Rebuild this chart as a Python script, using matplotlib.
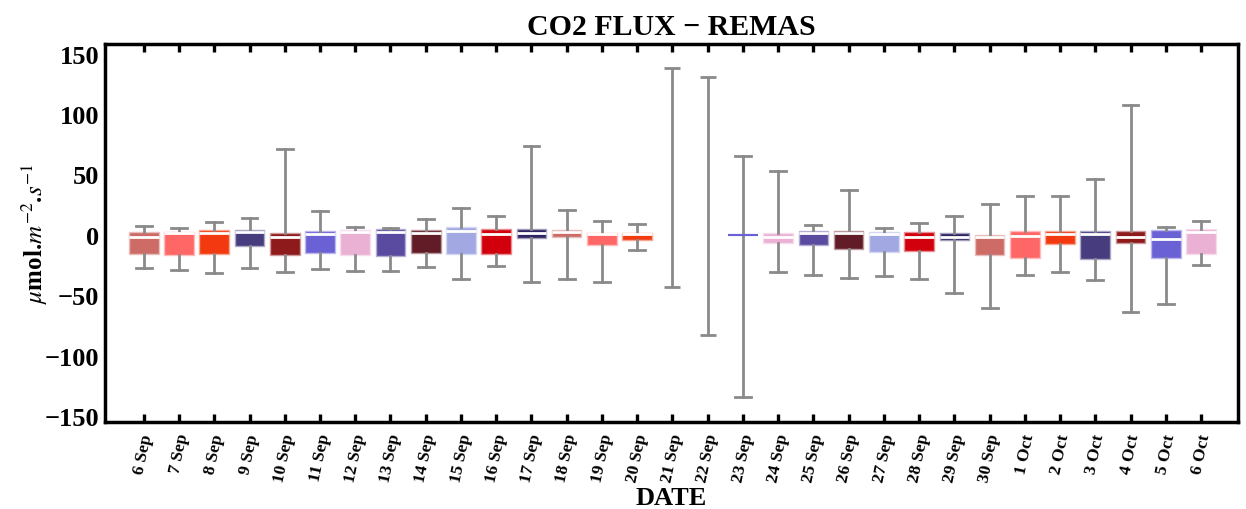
import matplotlib
matplotlib.use("Agg")
import matplotlib.pyplot as plt
import matplotlib.colors as mcolors
import numpy as np

plt.rcParams['font.family'] = ['Liberation Serif', 'DejaVu Serif']
plt.rcParams['mathtext.fontset'] = 'stix'

dates = ['6 Sep', '7 Sep', '8 Sep', '9 Sep', '10 Sep', '11 Sep', '12 Sep', '13 Sep',
         '14 Sep', '15 Sep', '16 Sep', '17 Sep', '18 Sep', '19 Sep', '20 Sep', '21 Sep',
         '22 Sep', '23 Sep', '24 Sep', '25 Sep', '26 Sep', '27 Sep', '28 Sep', '29 Sep',
         '30 Sep', '1 Oct', '2 Oct', '3 Oct', '4 Oct', '5 Oct', '6 Oct']

whis_hi = [7.5, 6.0, 10.5, 13.8, 70.7, 19.3, 6.6, 5.8, 12.7, 22.4, 15.5, 73.5, 20.2, 11.6,
           9.1, 138.0, 131.0, 65.2, 52.5, 8.0, 37.3, 5.8, 9.9, 15.2, 25.4, 32.3, 32.3,
           45.8, 107.7, 6.6, 11.3]
q3 = [2.7, 2.2, 3.9, 3.9, 1.9, 3.3, 4.1, 4.7, 3.9, 6.4, 5.0, 4.7, 3.9, 1.7, 1.9, None,
      None, -0.3, 1.7, 2.8, 3.1, 2.2, 2.5, 1.1, -0.3, 3.3, 3.1, 3.1, 3.1, 3.6, 4.4]
med = [-1.7, 1.4, 1.4, 2.2, -1.7, 0.3, 2.2, 2.5, 1.4, 3.1, 0.3, 1.1, 2.2, 0.3, 0.3, None,
       None, -0.3, -2.2, 1.1, 1.7, 0.3, -1.9, -1.7, -1.9, -1.4, 0.3, 0.8, -1.7, -3.3, 2.5]
q1 = [-16.0, -16.8, -16.0, -9.4, -16.6, -14.9, -16.6, -17.7, -14.9, -15.5, -16.0, -3.0,
      -1.9, -8.3, -4.4, None, None, -0.3, -6.9, -8.6, -11.6, -14.6, -13.5, -3.9, -16.6,
      -19.6, -8.0, -19.9, -6.6, -19.3, -16.3]
whis_lo = [-27.3, -29.3, -32.0, -27.6, -31.2, -28.7, -29.6, -29.6, -27.0, -36.2, -26.0,
           -39.0, -37.0, -39.0, -12.2, -43.4, -82.6, -134.0, -30.9, -32.9, -35.4, -34.0,
           -36.5, -48.0, -60.8, -33.1, -31.2, -37.6, -63.8, -56.9, -24.9]

palette = ['#CD6C67', '#FF6767', '#F2390F', '#463C7E', '#8E1A1C', '#6A62D4',
           '#EBB1D4', '#5A4BA0', '#611C27', '#A1A8E2', '#D1000C', '#2E2463']

yticks = [-150, -100, -50, 0, 50, 100, 150]

fig = plt.figure(figsize=(12.46, 5.10), dpi=100)
ax = fig.add_axes([0.0843, 0.1706, 0.9093, 0.7412])

x = np.arange(len(dates))
whisk_color = '#8A8A8A'
box_w = 0.84
cap_w = 0.45

full_idx = [i for i in range(len(dates)) if q1[i] is not None]
only_idx = [i for i in range(len(dates)) if q1[i] is None]

stats = [dict(whislo=whis_lo[i], q1=q1[i], med=med[i], q3=q3[i], whishi=whis_hi[i],
              fliers=[]) for i in full_idx]
bp = ax.bxp(stats, positions=x[full_idx], widths=box_w, patch_artist=True,
            showfliers=False, manage_ticks=False,
            whiskerprops=dict(color=whisk_color, linewidth=2.0),
            capprops=dict(color=whisk_color, linewidth=2.0),
            medianprops=dict(color='white', linewidth=2.0),
            capwidths=cap_w)
for k, i in enumerate(full_idx):
    c = palette[i % len(palette)]
    light = tuple(0.45 * np.array(mcolors.to_rgb(c)) + 0.55)
    patch = bp['boxes'][k]
    patch.set_facecolor(c)
    if q1[i] == q3[i]:
        patch.set_edgecolor(c)
        patch.set_linewidth(1.5)
        bp['medians'][k].set_color(c)
        bp['medians'][k].set_linewidth(1.5)
    else:
        patch.set_edgecolor(light)
        patch.set_linewidth(1.0)

# days with only a whisker range
for i in only_idx:
    ax.vlines(x[i], whis_lo[i], whis_hi[i], color=whisk_color, linewidth=2.0)
    ax.hlines([whis_lo[i], whis_hi[i]], x[i] - cap_w / 2, x[i] + cap_w / 2,
              color=whisk_color, linewidth=2.0)

ax.set_xlim(-1.1, 31.05)
ax.set_ylim(-155, 158)
ax.set_yticks(yticks)
ax.set_yticklabels([str(v).replace('-', '\u2212') for v in yticks],
                   fontsize=19, fontweight='bold')
ax.set_xticks(x)
ax.set_xticklabels(dates, rotation=78, fontsize=12.5, fontweight='bold')
ax.tick_params(axis='x', direction='in', length=6, width=2.4, top=True, pad=7)
ax.tick_params(axis='y', length=0, pad=4)
for s in ax.spines.values():
    s.set_linewidth(2.5)

ax.set_title('CO2 FLUX \u2212 REMAS', fontsize=21.5, fontweight='bold', pad=7)
ax.set_xlabel('DATE', fontsize=19, fontweight='bold', va='center')
ax.xaxis.set_label_coords(0.5, -0.2)
ax.set_ylabel(r'$\mu$mol.$m^{-2}$.$s^{-1}$', fontsize=18, fontweight='bold',
              va='center', ha='center')
ax.yaxis.set_label_coords(-0.062, 0.5)

fig.savefig('out.png', dpi=100)
